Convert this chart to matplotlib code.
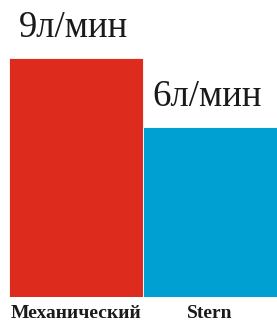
import numpy as np
from matplotlib import pyplot as plt

# Data
categories = ['Механический', 'Stern']
flow = [9, 6]
value_labels = ['9л/мин', '6л/мин']
colors = ['#DD2C1E', '#00A0D2']

base = -1.39  # bars don't start from zero in the original

fig = plt.figure(figsize=(2.77, 3.24), dpi=100)
ax = fig.add_axes([9 / 277, 27 / 324, 1 - 9 / 277, 297 / 324])

x = np.arange(len(categories))
heights = [v - base for v in flow]
ax.bar(x, heights, bottom=base, width=1.0, color=colors, edgecolor='white', linewidth=0.6)

for xi, v, lab in zip(x, flow, value_labels):
    ax.annotate(lab, (xi, v), xytext=(-2, 15), textcoords='offset points',
                ha='center', va='baseline', fontsize=26.5,
                family='Liberation Serif', color='#1a1a1a')

ax.set_xlim(-0.5, 1.5)
ax.set_ylim(base, base + 297 / 23)
ax.set_xticks(x)
ax.set_xticklabels(categories, family='Liberation Serif', fontweight='bold', fontsize=14, color='#1a1a1a')
ax.tick_params(axis='x', length=0, pad=6)
ax.set_yticks([])
for s in ax.spines.values():
    s.set_visible(False)

plt.savefig('out.png', dpi=100)
plt.close()
